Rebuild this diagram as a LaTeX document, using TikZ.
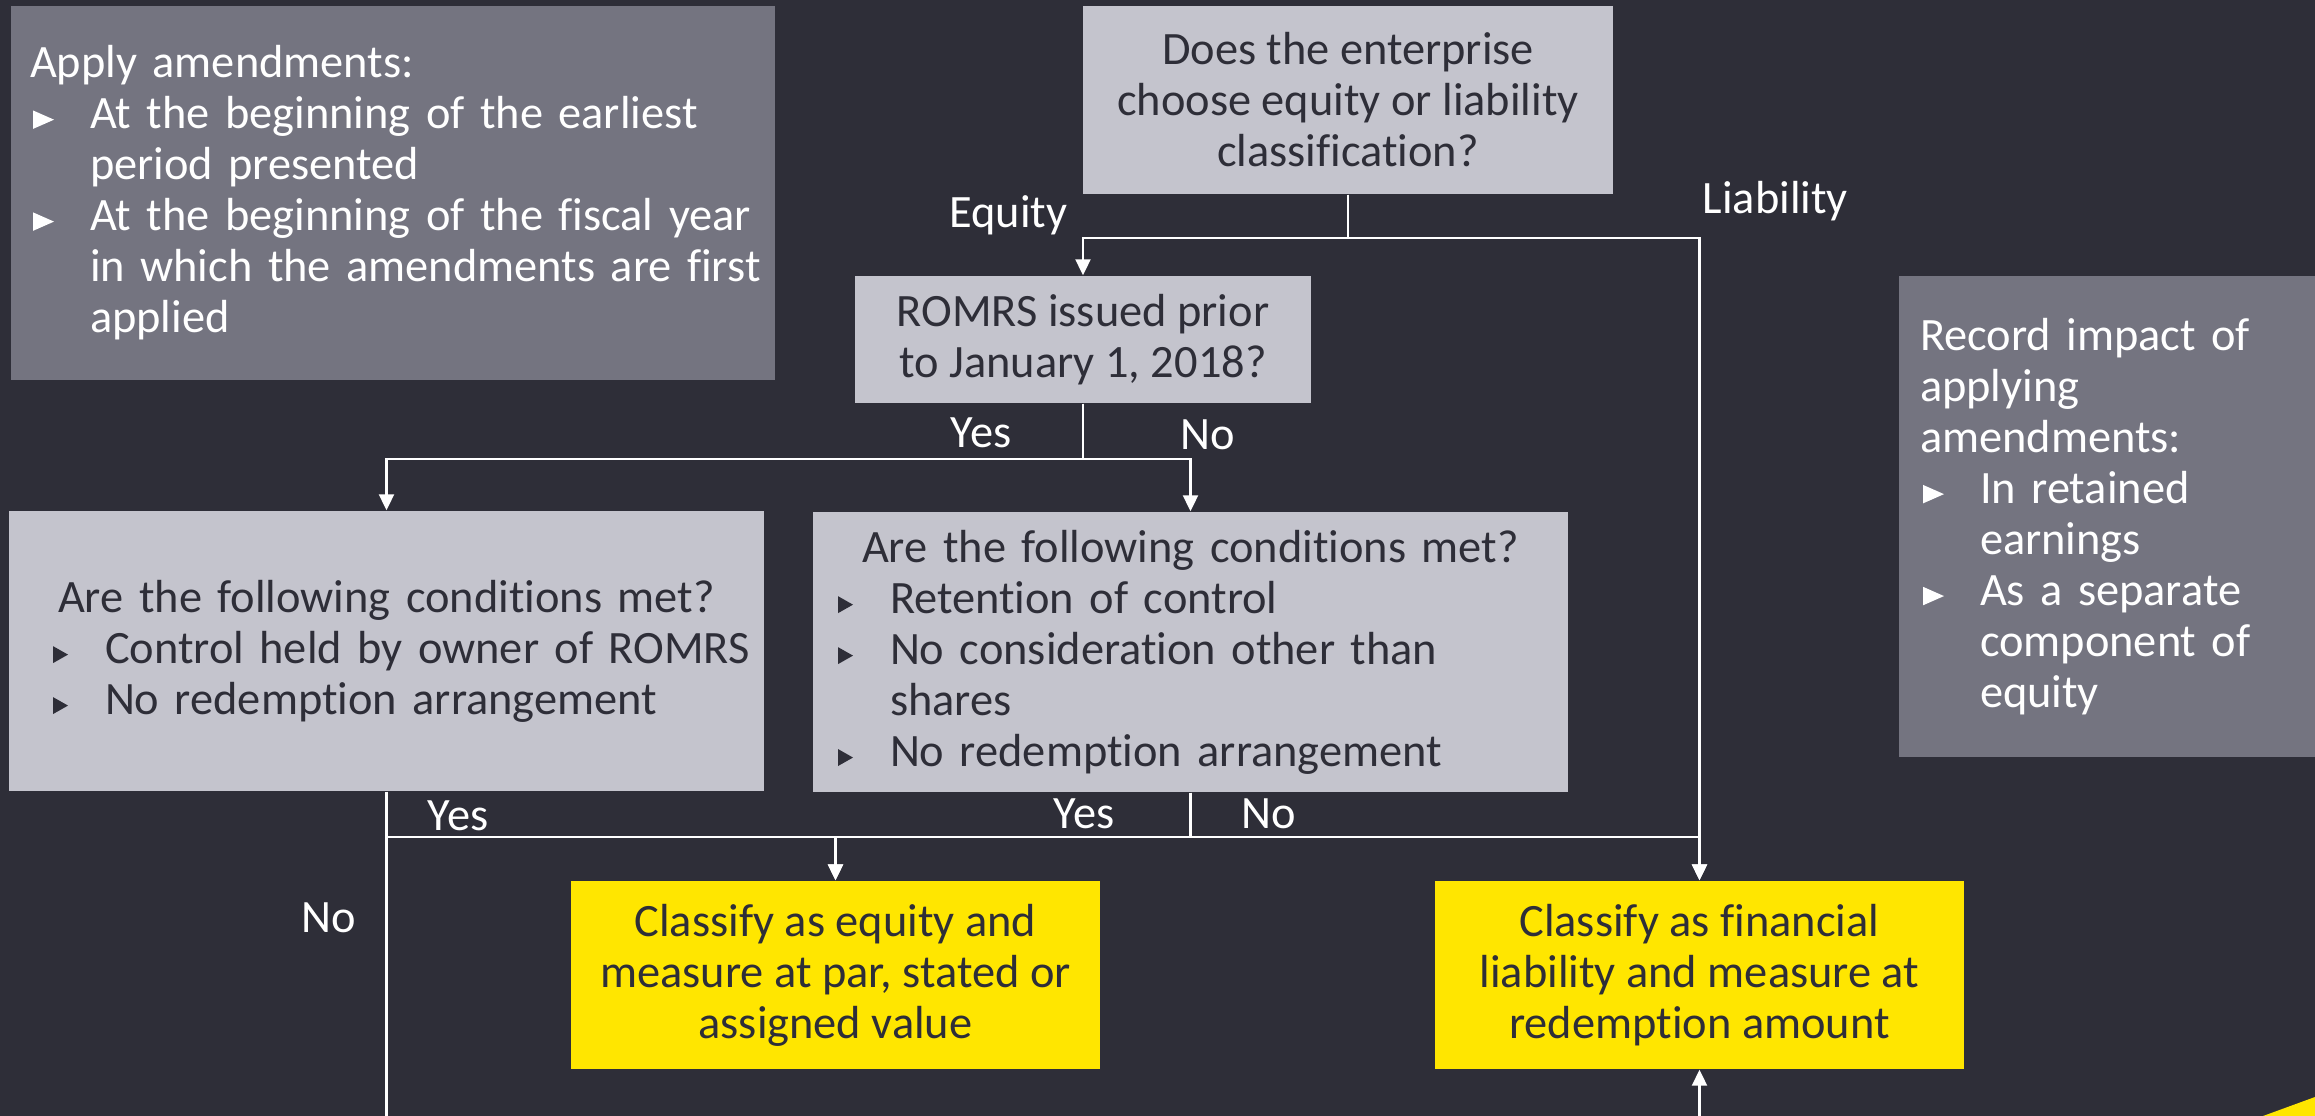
\documentclass[tikz,border=0pt]{standalone}
\usepackage{fontspec}
\setmainfont{Carlito}[Ligatures={NoCommon}]
\usetikzlibrary{arrows.meta}

\definecolor{eybg}{HTML}{2E2E38}
\definecolor{eydark}{HTML}{747480}
\definecolor{eylight}{HTML}{C4C4CD}
\definecolor{eyyellow}{HTML}{FFE600}

% bullets
\newcommand{\wtri}{\tikz[baseline=0pt]\fill[white] (0,0) -- (0,1.85mm) -- (2.1mm,0.925mm) -- cycle;}
\newcommand{\dtri}{\tikz[baseline=0pt]\fill[eybg] (0,0) -- (0,1.7mm) -- (1.5mm,0.85mm) -- cycle;}
\newcommand{\witem}{\par\hangindent=6mm\hangafter=1\noindent\makebox[6mm][l]{\hspace{0.3mm}\wtri}}
\newcommand{\ditem}[1]{\par\hangindent=\dimexpr#1+5.2mm\relax\hangafter=1\noindent\hspace*{#1}\makebox[5.2mm][l]{\dtri}}

\tikzset{
  box/.style={inner sep=0pt, font=\fontsize{13.2}{14.5}\selectfont},
  lightbox/.style={box, fill=eylight, text=eybg},
  darkbox/.style={box, fill=eydark, text=white},
  yelbox/.style={box, fill=eyyellow, text=eybg, align=center,
    minimum width=52.9mm, minimum height=18.8mm},
  lbl/.style={inner sep=0pt, text=white, font=\fontsize{13.2}{14.5}\selectfont},
  link/.style={draw=white, line width=0.6pt},
  arr/.style={link, -{Triangle[width=1.5mm,length=1.6mm]}}
}

\begin{document}
\begin{tikzpicture}[x=0.1mm, y=-0.1mm]
    \useasboundingbox (0,0) rectangle (2315,1116);
    \fill[eybg] (0,0) rectangle (2315,1116);

    % side notes
    \node[darkbox, minimum width=76.4mm, minimum height=37.4mm, text width=72.6mm, align=left]
        (amend) at (393,193) {Apply amendments:
        \witem At the beginning of the earliest\newline period presented
        \witem At the beginning of the fiscal year\newline \mbox{in which the amendments are first}\newline applied\par};
    \node[darkbox, minimum width=41.6mm, minimum height=48.1mm, text width=37.4mm, align=left]
        (record) at (2107,516.5) {Record impact of\newline applying\newline amendments:
        \witem In retained\newline earnings
        \witem As a separate\newline component of\newline equity\par};

    % questions
    \node[lightbox, minimum width=53mm, minimum height=18.8mm, align=center]
        (choose) at (1348,100) {Does the enterprise\\choose equity or liability\\classification?};
    \node[lightbox, minimum width=45.6mm, minimum height=12.7mm, align=center]
        (issued) at (1083,339.5) {ROMRS issued prior\\to January 1, 2018?};
    \node[lightbox, minimum width=75.5mm, minimum height=28mm, text width=75.5mm, align=left]
        (condold) at (386.5,651) {{\centering Are the following conditions met?\par}
        \ditem{4.4mm}Control held by owner of ROMRS
        \ditem{4.4mm}No redemption arrangement\par};
    \node[lightbox, minimum width=75.5mm, minimum height=28mm, text width=75.5mm, align=left]
        (condnew) at (1190.5,652) {{\centering Are the following conditions met?\par}
        \ditem{2.5mm}Retention of control
        \ditem{2.5mm}No consideration other than\newline shares
        \ditem{2.5mm}No redemption arrangement\par};

    % outcomes
    \node[yelbox] (equity) at (835.5,975) {Classify as equity and\\measure at par, stated or\\assigned value};
    \node[yelbox] (liab) at (1699.5,975) {Classify as financial\\liability and measure at\\redemption amount};

    \coordinate (oldout) at (386.5,1116);
    \coordinate (liabin) at (1699.5,1116);

    % connectors
    \draw[arr] (choose.south) -- ++(0,43) -| (issued.north);
    \draw[arr] (choose.south) -- ++(0,43) -| (liab.north);
    \draw[arr] (issued.south) -- ++(0,55) -| (condold.north);
    \draw[arr] (issued.south) -- ++(0,55) -| (condnew.north);
    \draw[link] (condold.south) -- (oldout);
    \draw[arr] (condold.south) ++(0,45) -| (equity.north);
    \draw[arr] (condnew.south) -- ++(0,44) -| (equity.north);
    \draw[arr] (condnew.south) -- ++(0,44) -| (liab.north);
    \draw[arr] (liabin) -- (liab.south);

    % labels
    \node[lbl, anchor=base east] (lequity) at (1068,227) {Equity};
    \node[lbl, anchor=base west] (lliab) at (1702,213) {Liability};
    \node[lbl, anchor=base west] (lyes1) at (950,447) {Yes};
    \node[lbl, anchor=base west] (lno1) at (1180,449) {No};
    \node[lbl, anchor=base west] (lyes2) at (427,830) {Yes};
    \node[lbl, anchor=base west] (lyes3) at (1053,828) {Yes};
    \node[lbl, anchor=base west] (lno2) at (1241,828) {No};
    \node[lbl, anchor=base west] (lno3) at (301,932) {No};

    % corner mark
    \fill[eyyellow] (2263,1116) -- (2315,1097) -- (2315,1116) -- cycle;
\end{tikzpicture}
\end{document}
